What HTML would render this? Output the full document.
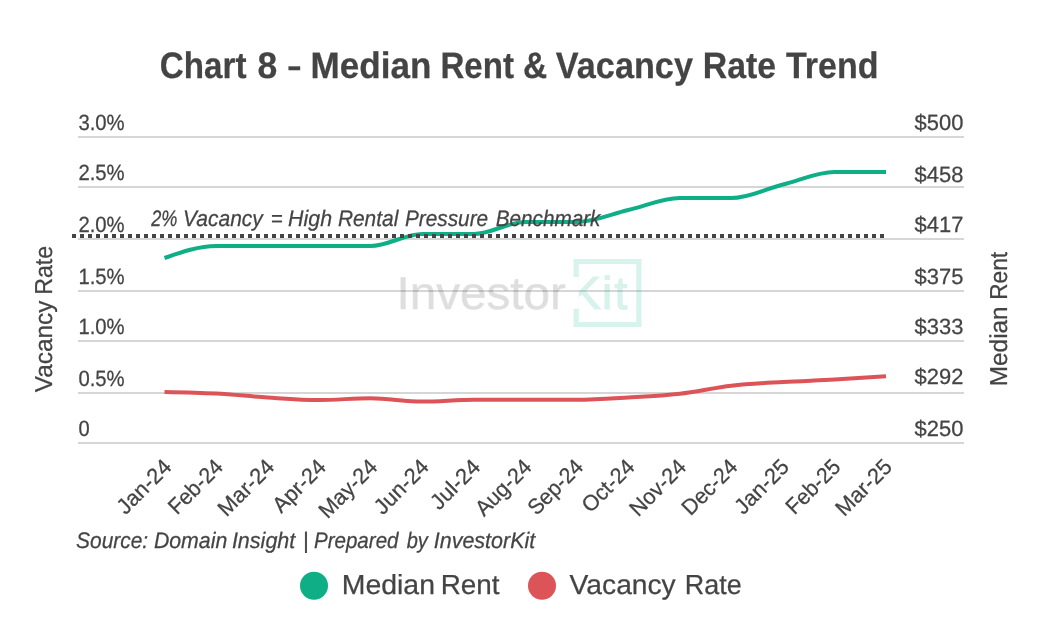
<!DOCTYPE html>
<html lang="en"><head><meta charset="utf-8"><title>Chart 8 - Median Rent &amp; Vacancy Rate Trend</title>
<style>html,body{margin:0;padding:0;background:#fff;}body{width:1040px;height:640px;overflow:hidden;}svg{display:block;will-change:transform;}text{font-family:"Liberation Sans", sans-serif;fill:#444444;text-rendering:geometricPrecision;stroke:#444444;stroke-width:0.25px;}</style></head><body>
<svg width="1040" height="640" viewBox="0 0 1040 640">
<rect width="1040" height="640" fill="#ffffff"/>
<text y="78" font-size="36.8" font-weight="bold"><tspan x="159.85" textLength="86.59" lengthAdjust="spacingAndGlyphs">Chart</tspan> <tspan x="257.38" textLength="19.74" lengthAdjust="spacingAndGlyphs">8</tspan> <tspan x="287.11" dy="-2.3" font-size="30" textLength="14.79" lengthAdjust="spacingAndGlyphs">-</tspan> <tspan x="310.58" dy="2.3" textLength="121.0" lengthAdjust="spacingAndGlyphs">Median</tspan> <tspan x="440.45" textLength="73.59" lengthAdjust="spacingAndGlyphs">Rent</tspan> <tspan x="523.12" textLength="24.18" lengthAdjust="spacingAndGlyphs">&amp;</tspan> <tspan x="555.87" textLength="137.07" lengthAdjust="spacingAndGlyphs">Vacancy</tspan> <tspan x="702.8" textLength="73.33" lengthAdjust="spacingAndGlyphs">Rate</tspan> <tspan x="785.91" textLength="92.62" lengthAdjust="spacingAndGlyphs">Trend</tspan></text>
<rect x="78" y="136" width="886" height="2" fill="#d6d6d6"/>
<rect x="78" y="186" width="886" height="2" fill="#d6d6d6"/>
<rect x="78" y="238" width="886" height="2" fill="#d6d6d6"/>
<rect x="78" y="290" width="886" height="2" fill="#d6d6d6"/>
<rect x="78" y="340" width="886" height="2" fill="#d6d6d6"/>
<rect x="78" y="392" width="886" height="2" fill="#d6d6d6"/>
<rect x="78" y="442" width="886" height="2" fill="#d6d6d6"/>
<g>
<text x="396.4" y="309" font-size="46.2" textLength="169.6" lengthAdjust="spacingAndGlyphs" style="fill:#000;stroke:#000;stroke-width:0.5;opacity:0.125">Investor</text>
<path d="M573.5 276.9V259H641.5V326.9H573.5V308.75H578.75V321.9H636.25V264H578.75V276.9Z" fill="#0eae87" fill-opacity="0.16"/>
<clipPath id="kc"><rect x="578.75" y="265" width="56" height="56"/></clipPath>
<text x="570 602 614.6" y="309" font-size="46.2" clip-path="url(#kc)" style="fill:#0eae87;stroke:#0eae87;stroke-width:1.2;opacity:0.16">Kit</text>
</g>
<path d="M164.50,258.00C181.68,252.00,198.86,246.00,216.04,246.00C233.21,246.00,250.39,246.00,267.57,246.00C284.75,246.00,301.93,246.00,319.11,246.00C336.29,246.00,353.46,246.00,370.64,246.00C387.82,246.00,405.00,234.00,422.18,234.00C439.36,234.00,456.54,234.00,473.71,234.00C490.89,234.00,508.07,222.00,525.25,222.00C542.43,222.00,559.61,222.00,576.79,222.00C593.96,222.00,611.14,214.00,628.32,210.00C645.50,206.00,662.68,198.00,679.86,198.00C697.04,198.00,714.21,198.00,731.39,198.00C748.57,198.00,765.75,188.83,782.93,184.50C800.11,180.17,817.29,172.00,834.46,172.00C851.64,172.00,868.82,172.00,886.00,172.00" fill="none" stroke="#0eae87" stroke-width="4"/>
<path d="M164.50,391.90C181.68,392.23,198.86,392.57,216.04,393.50C233.21,394.43,250.39,396.42,267.57,397.50C284.75,398.58,301.93,400.00,319.11,400.00C336.29,400.00,353.46,398.25,370.64,398.25C387.82,398.25,405.00,401.60,422.18,401.60C439.36,401.60,456.54,399.75,473.71,399.75C490.89,399.75,508.07,399.75,525.25,399.75C542.43,399.75,559.61,399.75,576.79,399.75C593.96,399.75,611.14,398.50,628.32,397.50C645.50,396.50,662.68,395.71,679.86,393.75C697.04,391.79,714.21,387.71,731.39,385.75C748.57,383.79,765.75,383.04,782.93,382.00C800.11,380.96,817.29,380.46,834.46,379.50C851.64,378.54,868.82,377.40,886.00,376.25" fill="none" stroke="#dc5458" stroke-width="4"/>
<path d="M72 236H886" fill="none" stroke="#444444" stroke-width="4" stroke-dasharray="4 4"/>
<text y="226" font-size="22.4" font-style="italic"><tspan x="151.3" textLength="26.17" lengthAdjust="spacingAndGlyphs">2%</tspan> <tspan x="183.07" textLength="79.75" lengthAdjust="spacingAndGlyphs">Vacancy</tspan> <tspan x="270.7" textLength="11.89" lengthAdjust="spacingAndGlyphs">=</tspan> <tspan x="288.06" textLength="43.98" lengthAdjust="spacingAndGlyphs">High</tspan> <tspan x="337.89" textLength="60.46" lengthAdjust="spacingAndGlyphs">Rental</tspan> <tspan x="404.99" textLength="83.16" lengthAdjust="spacingAndGlyphs">Pressure</tspan> <tspan x="495.64" textLength="104.85" lengthAdjust="spacingAndGlyphs">Benchmark</tspan></text>
<text x="78.4" y="130" font-size="22" textLength="46.3" lengthAdjust="spacingAndGlyphs">3.0%</text>
<text x="914.6" y="130" font-size="22" textLength="48.8" lengthAdjust="spacingAndGlyphs">$500</text>
<text x="78.4" y="180" font-size="22" textLength="46.3" lengthAdjust="spacingAndGlyphs">2.5%</text>
<text x="914.6" y="182" font-size="22" textLength="48.8" lengthAdjust="spacingAndGlyphs">$458</text>
<text x="78.4" y="232" font-size="22" textLength="46.3" lengthAdjust="spacingAndGlyphs">2.0%</text>
<text x="914.6" y="232" font-size="22" textLength="48.8" lengthAdjust="spacingAndGlyphs">$417</text>
<text x="78.4" y="284" font-size="22" textLength="46.3" lengthAdjust="spacingAndGlyphs">1.5%</text>
<text x="914.6" y="284" font-size="22" textLength="48.8" lengthAdjust="spacingAndGlyphs">$375</text>
<text x="78.4" y="334" font-size="22" textLength="46.3" lengthAdjust="spacingAndGlyphs">1.0%</text>
<text x="914.6" y="334" font-size="22" textLength="48.8" lengthAdjust="spacingAndGlyphs">$333</text>
<text x="78.4" y="386" font-size="22" textLength="46.3" lengthAdjust="spacingAndGlyphs">0.5%</text>
<text x="914.6" y="384" font-size="22" textLength="48.8" lengthAdjust="spacingAndGlyphs">$292</text>
<text x="78.4" y="436" font-size="22" textLength="11.2" lengthAdjust="spacingAndGlyphs">0</text>
<text x="914.6" y="436" font-size="22" textLength="48.8" lengthAdjust="spacingAndGlyphs">$250</text>
<text transform="translate(172.80 468.20) rotate(-45)" font-size="22" text-anchor="end" textLength="66.98" lengthAdjust="spacingAndGlyphs">Jan-24</text>
<text transform="translate(224.27 468.20) rotate(-45)" font-size="22" text-anchor="end" textLength="67.03" lengthAdjust="spacingAndGlyphs">Feb-24</text>
<text transform="translate(275.74 468.20) rotate(-45)" font-size="22" text-anchor="end" textLength="69.57" lengthAdjust="spacingAndGlyphs">Mar-24</text>
<text transform="translate(327.21 468.20) rotate(-45)" font-size="22" text-anchor="end" textLength="64.84" lengthAdjust="spacingAndGlyphs">Apr-24</text>
<text transform="translate(378.68 468.20) rotate(-45)" font-size="22" text-anchor="end" textLength="72.5" lengthAdjust="spacingAndGlyphs">May-24</text>
<text transform="translate(430.15 468.20) rotate(-45)" font-size="22" text-anchor="end" textLength="67.15" lengthAdjust="spacingAndGlyphs">Jun-24</text>
<text transform="translate(481.62 468.20) rotate(-45)" font-size="22" text-anchor="end" textLength="60.36" lengthAdjust="spacingAndGlyphs">Jul-24</text>
<text transform="translate(533.09 468.20) rotate(-45)" font-size="22" text-anchor="end" textLength="69.51" lengthAdjust="spacingAndGlyphs">Aug-24</text>
<text transform="translate(584.56 468.20) rotate(-45)" font-size="22" text-anchor="end" textLength="68.1" lengthAdjust="spacingAndGlyphs">Sep-24</text>
<text transform="translate(636.03 468.20) rotate(-45)" font-size="22" text-anchor="end" textLength="64.53" lengthAdjust="spacingAndGlyphs">Oct-24</text>
<text transform="translate(687.50 468.20) rotate(-45)" font-size="22" text-anchor="end" textLength="69.81" lengthAdjust="spacingAndGlyphs">Nov-24</text>
<text transform="translate(738.97 468.20) rotate(-45)" font-size="22" text-anchor="end" textLength="68.48" lengthAdjust="spacingAndGlyphs">Dec-24</text>
<text transform="translate(790.44 468.20) rotate(-45)" font-size="22" text-anchor="end" textLength="66.88" lengthAdjust="spacingAndGlyphs">Jan-25</text>
<text transform="translate(841.91 468.20) rotate(-45)" font-size="22" text-anchor="end" textLength="66.92" lengthAdjust="spacingAndGlyphs">Feb-25</text>
<text transform="translate(893.38 468.20) rotate(-45)" font-size="22" text-anchor="end" textLength="69.47" lengthAdjust="spacingAndGlyphs">Mar-25</text>
<text transform="translate(52 0) rotate(-90)" font-size="24.5"><tspan x="-392.21" y="0" textLength="91.52" lengthAdjust="spacingAndGlyphs">Vacancy</tspan> <tspan x="-294.83" y="0" textLength="48.98" lengthAdjust="spacingAndGlyphs">Rate</tspan></text>
<text transform="translate(1007 0) rotate(-90)" font-size="24.5"><tspan x="-386.23" y="0" textLength="79.87" lengthAdjust="spacingAndGlyphs">Median</tspan> <tspan x="-299.85" y="0" textLength="48.0" lengthAdjust="spacingAndGlyphs">Rent</tspan></text>
<text y="548" font-size="22.4" font-style="italic"><tspan x="76.04" textLength="72.15" lengthAdjust="spacingAndGlyphs">Source:</tspan> <tspan x="153.92" textLength="73.37" lengthAdjust="spacingAndGlyphs">Domain</tspan> <tspan x="231.89" textLength="63.46" lengthAdjust="spacingAndGlyphs">Insight</tspan> <tspan x="302.8">|</tspan> <tspan x="313.91" textLength="84.66" lengthAdjust="spacingAndGlyphs">Prepared</tspan> <tspan x="406.72" textLength="21.18" lengthAdjust="spacingAndGlyphs">by</tspan> <tspan x="433.74" textLength="101.57" lengthAdjust="spacingAndGlyphs">InvestorKit</tspan></text>
<circle cx="314" cy="585.75" r="14" fill="#0eae87"/>
<text y="594" font-size="27.6" ><tspan x="341.78" textLength="93.22" lengthAdjust="spacingAndGlyphs">Median</tspan> <tspan x="440.72" textLength="58.85" lengthAdjust="spacingAndGlyphs">Rent</tspan></text>
<circle cx="542" cy="585.75" r="14" fill="#dc5458"/>
<text y="594" font-size="27.6" ><tspan x="569.64" textLength="106.11" lengthAdjust="spacingAndGlyphs">Vacancy</tspan> <tspan x="684.74" textLength="56.95" lengthAdjust="spacingAndGlyphs">Rate</tspan></text>
</svg></body></html>
